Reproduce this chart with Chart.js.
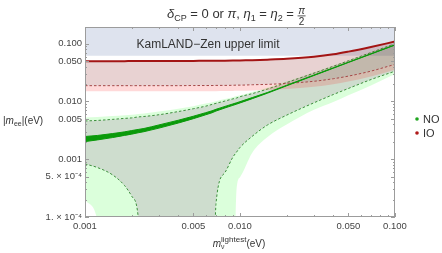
<!DOCTYPE html>
<html>
<head>
<meta charset="utf-8">
<script src="https://cdn.jsdelivr.net/npm/chart.js@4"></script>
<style>
  body { margin: 0; background: #fff; }
  #wrap { position: relative; width: 442px; height: 253px; }
</style>
</head>
<body>
<div id="wrap"><canvas id="chartMee" width="442" height="253"></canvas></div>
<script>
// lightest neutrino mass (eV) - sampling points
const mLightest = [0.001, 0.0012, 0.0015, 0.0018, 0.002, 0.0022, 0.0024, 0.003, 0.004, 0.005,
  0.006, 0.0066, 0.007, 0.008, 0.009, 0.0095, 0.01, 0.012, 0.015, 0.02, 0.03, 0.04, 0.05, 0.07, 0.1];

// NO (normal ordering), values of |m_ee| in eV ; 1e-6 = below the plot
const noUpper3s = [0.0053, 0.0054, 0.0056, 0.0058, 0.0059, 0.0061, 0.0062, 0.0067, 0.0075, 0.0083,
  0.0092, 0.0097, 0.0101, 0.0110, 0.0119, 0.0124, 0.0128, 0.0146, 0.0173, 0.0222, 0.032, 0.042, 0.052, 0.072, 0.102];
const noUpperDash = [0.0046, 0.0047, 0.0049, 0.0051, 0.0052, 0.0054, 0.0055, 0.0059, 0.0067, 0.0075,
  0.0083, 0.0089, 0.0093, 0.0102, 0.0111, 0.0115, 0.0121, 0.0137, 0.0164, 0.0213, 0.031, 0.0408, 0.0507, 0.0705, 0.1004];
const noLowerDash = [0.00083, 0.00072, 0.00054, 0.00035, 0.00023, 0.000105, 1e-6, 1e-6, 1e-6, 1e-6,
  1e-6, 1e-6, 0.00017, 0.00059, 0.00109, 0.00133, 0.0016, 0.0025, 0.0039, 0.0058, 0.0095, 0.0132, 0.0168, 0.024, 0.0335];
const noLower3s = [0.0002, 0.00009, 1e-6, 1e-6, 1e-6, 1e-6, 1e-6, 1e-6, 1e-6, 1e-6,
  1e-6, 1e-6, 1e-6, 1e-6, 1e-6, 0.0003, 0.00049, 0.0013, 0.0024, 0.004, 0.0072, 0.0098, 0.0128, 0.019, 0.03];
const noBestLo = [0.00202, 0.00216, 0.00237, 0.00259, 0.00272, 0.00287, 0.003, 0.00346, 0.00424, 0.00504,
  0.00588, 0.00638, 0.00683, 0.00774, 0.00858, 0.009, 0.00945, 0.0112, 0.0139, 0.0187, 0.0282, 0.0377, 0.0473, 0.0663, 0.095];
const noBestHi = [0.00248, 0.00258, 0.00278, 0.00298, 0.00314, 0.00328, 0.00341, 0.00393, 0.00474, 0.00556,
  0.0064, 0.0069, 0.00733, 0.00822, 0.00908, 0.0095, 0.00994, 0.0117, 0.0143, 0.0191, 0.0287, 0.0383, 0.0479, 0.0671, 0.0958];

// IO (inverted ordering)
const ioBest = [0.05, 0.05, 0.05, 0.05, 0.0501, 0.0501, 0.0501, 0.0502, 0.0503, 0.0505,
  0.0506, 0.0507, 0.0508, 0.051, 0.0512, 0.0513, 0.0515, 0.052, 0.053, 0.0548, 0.0595, 0.0655, 0.073, 0.088, 0.109];
const ioLowerDash = [0.0188, 0.0188, 0.0188, 0.0188, 0.0188, 0.0188, 0.0188, 0.0188, 0.0188, 0.0189,
  0.0189, 0.0189, 0.019, 0.019, 0.0191, 0.0192, 0.0192, 0.0195, 0.0198, 0.0206, 0.0224, 0.0248, 0.0275, 0.0336, 0.044];
const ioLower3s = [0.015, 0.015, 0.015, 0.015, 0.015, 0.015, 0.015, 0.015, 0.015, 0.015,
  0.0151, 0.0151, 0.0151, 0.0152, 0.0152, 0.0153, 0.0153, 0.0155, 0.0158, 0.0165, 0.018, 0.0199, 0.0222, 0.0272, 0.0356];

// KamLAND-Zen bound
const kamlandX = [0.001, 0.1];
const kamlandLimit = [0.062, 0.062];

const xTicks = [0.001, 0.005, 0.01, 0.05, 0.1];
const xTickLabels = ['0.001', '0.005', '0.010', '0.050', '0.100'];
const yTicks = [1e-4, 5e-4, 0.001, 0.005, 0.01, 0.05, 0.1];
const yTickLabels = ['1. \u00d7 10\u207b\u2074', '5. \u00d7 10\u207b\u2074', '0.001', '0.005', '0.010', '0.050', '0.100'];

const FONT = '"Liberation Sans", Arial, sans-serif';
Chart.defaults.font.family = FONT;

const pts = (xs, ys) => xs.map((m, i) => ({ x: m, y: ys[i] }));
function curve(ys, extra) {
  return Object.assign({
    data: pts(mLightest, ys), pointRadius: 0, borderWidth: 0, borderColor: 'rgba(0,0,0,0)',
    fill: false, cubicInterpolationMode: 'monotone', clip: 0
  }, extra);
}

const lightGreen = 'rgba(0,255,0,0.14)';
const darkGreen = 'rgba(30,100,30,0.22)';
const dashGreen = '#3d8f3d';
const dashRed = '#a54848';

const datasets = [
  // 0 KamLAND-Zen
  { data: pts(kamlandX, kamlandLimit), pointRadius: 0, borderWidth: 0, fill: 'end',
    backgroundColor: '#dee3ee', order: 100, clip: 0 },
  // 1,2 NO upper 3 sigma strip + upper dashed
  curve(noUpper3s, { fill: 2, backgroundColor: lightGreen, order: 95 }),
  curve(noUpperDash, { borderWidth: 1, borderColor: dashGreen, borderDash: [2.5, 2], order: 89 }),
  // 3,4 NO lower strip + lower dashed (fills dark region up to 2)
  curve(noLower3s, { fill: 4, backgroundColor: lightGreen, order: 94 }),
  curve(noLowerDash, { fill: 2, backgroundColor: darkGreen, borderWidth: 1, borderColor: dashGreen,
    borderDash: [2.5, 2], order: 90 }),
  // 5,6,7 IO
  curve(ioLower3s, { fill: 6, backgroundColor: 'rgba(255,0,0,0.15)', order: 80 }),
  curve(ioLowerDash, { fill: 7, backgroundColor: 'rgba(150,50,50,0.22)', borderWidth: 1, borderColor: dashRed,
    borderDash: [2.5, 2], order: 75 }),
  curve(ioBest, { borderWidth: 2, borderColor: '#a31414', order: 50 }),
  // 8,9 NO band for the chosen phases
  curve(noBestLo, { fill: 9, backgroundColor: '#0a9a0a', borderWidth: 1, borderColor: '#0a9a0a', order: 60 }),
  curve(noBestHi, { borderWidth: 1, borderColor: '#0a9a0a', order: 59 })
];

// draw rich text runs: {t, s (size), i (italic), dy, stay}
function runs(ctx, x, y, list, draw) {
  for (const r of list) {
    ctx.font = (r.i ? 'italic ' : '') + r.s + 'px ' + FONT;
    const w = ctx.measureText(r.t).width;
    if (draw) ctx.fillText(r.t, x, y + (r.dy || 0));
    if (!r.stay) x += w;
  }
  return x;
}
function centered(ctx, cx, y, list) {
  const w = runs(ctx, 0, y, list, false);
  return runs(ctx, cx - w / 2, y, list, true);
}

const deco = {
  id: 'deco',
  afterDraw(chart) {
    const { ctx, chartArea: a, scales: { x, y } } = chart;
    ctx.save();
    ctx.strokeStyle = '#9c9c9c';
    ctx.lineWidth = 1;
    ctx.strokeRect(a.left + 0.5, a.top + 0.5, a.right - a.left - 1, a.bottom - a.top - 1);

    ctx.beginPath();
    for (let d = 0.001; d < 0.2; d *= 10) {
      for (let k = 1; k <= 9; k++) {
        const v = +(k * d).toPrecision(3);
        if (v > 0.1 + 1e-9) break;
        const len = xTicks.includes(v) ? 4 : 2;
        const px = Math.round(x.getPixelForValue(v)) + 0.5;
        ctx.moveTo(px, a.bottom); ctx.lineTo(px, a.bottom - len);
        ctx.moveTo(px, a.top); ctx.lineTo(px, a.top + len);
      }
    }
    for (let d = 0.0001; d < 1; d *= 10) {
      for (let k = 1; k <= 9; k++) {
        const v = +(k * d).toPrecision(3);
        if (v > y.max) break;
        const len = yTicks.includes(v) ? 4 : 2;
        const py = Math.round(y.getPixelForValue(v)) + 0.5;
        ctx.moveTo(a.left, py); ctx.lineTo(a.left + len, py);
        ctx.moveTo(a.right, py); ctx.lineTo(a.right - len, py);
      }
    }
    ctx.stroke();

    ctx.fillStyle = '#333';
    ctx.textBaseline = 'alphabetic';
    ctx.textAlign = 'left';

    // title
    const tEnd = runs(ctx, 167, 18, [
      { t: '\u03b4', s: 13, i: 1 }, { t: 'CP', s: 9, dy: 3 }, { t: ' = 0 or ', s: 13 },
      { t: '\u03c0', s: 13, i: 1 }, { t: ', ', s: 13 }, { t: '\u03b7', s: 13, i: 1 }, { t: '1', s: 9, dy: 3 },
      { t: ' = ', s: 13 }, { t: '\u03b7', s: 13, i: 1 }, { t: '2', s: 9, dy: 3 }, { t: ' = ', s: 13 }
    ], true);
    ctx.font = 'italic 10px ' + FONT;
    ctx.textAlign = 'center';
    ctx.fillText('\u03c0', tEnd + 4, 14);
    ctx.font = '10px ' + FONT;
    ctx.fillText('2', tEnd + 4, 25);
    ctx.fillRect(tEnd, 15.5, 8, 0.8);
    ctx.textAlign = 'left';

    // KamLAND text
    ctx.font = '12px ' + FONT;
    ctx.textAlign = 'center';
    ctx.fillText('KamLAND\u2212Zen upper limit', 208, 48);
    ctx.textAlign = 'left';

    // axis labels
    runs(ctx, 3, 124, [
      { t: '|', s: 10 }, { t: 'm', s: 10, i: 1 }, { t: 'ee', s: 7, dy: 2 }, { t: '|(eV)', s: 10 }
    ], true);
    centered(ctx, 239, 247, [
      { t: 'm', s: 10, i: 1 }, { t: '\u03bd', s: 7, dy: 2, stay: 1 }, { t: 'lightest', s: 8, dy: -5 },
      { t: '(eV)', s: 10 }
    ]);

    // legend
    const legend = [['NO', '#1fa51f', 119], ['IO', '#b01a1a', 133]];
    for (const [name, col, ly] of legend) {
      ctx.fillStyle = col;
      ctx.beginPath(); ctx.arc(417, ly, 1.8, 0, Math.PI * 2); ctx.fill();
      ctx.fillStyle = '#333';
      ctx.font = '11px ' + FONT;
      ctx.fillText(name, 423, ly + 4);
    }
    ctx.restore();
  }
};

new Chart(document.getElementById('chartMee'), {
  type: 'line',
  data: { datasets },
  options: {
    responsive: false,
    animation: false,
    layout: { padding: { top: 27, right: 47, bottom: 0, left: 0 } },
    plugins: { legend: { display: false }, tooltip: { enabled: false }, title: { display: false } },
    scales: {
      x: {
        type: 'logarithmic', min: 0.001, max: 0.1,
        grid: { display: false, drawTicks: false }, border: { display: false },
        ticks: { padding: 4, color: '#444', font: { size: 9.5 }, autoSkip: false, maxRotation: 0,
          callback: (v, i) => xTickLabels[i] },
        afterBuildTicks: s => { s.ticks = xTicks.map(v => ({ value: v })); },
        afterFit: s => { s.height = 36; }
      },
      y: {
        type: 'logarithmic', min: 1e-4, max: 0.195,
        grid: { display: false, drawTicks: false }, border: { display: false },
        ticks: { padding: 3, color: '#444', font: { size: 9.5 }, autoSkip: false,
          callback: (v, i) => yTickLabels[i] },
        afterBuildTicks: s => { s.ticks = yTicks.map(v => ({ value: v })); },
        afterFit: s => { s.width = 85; }
      }
    }
  },
  plugins: [deco]
});
</script>
</body>
</html>
